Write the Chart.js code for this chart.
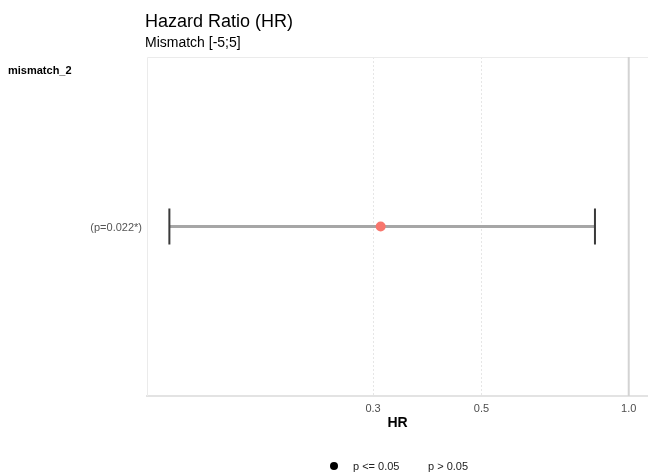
<!DOCTYPE html>
<html>
<head>
<meta charset="utf-8">
<script src="https://cdn.jsdelivr.net/npm/chart.js@4/dist/chart.umd.min.js"></script>
<style>
  html, body { margin: 0; padding: 0; background: #fff; }
  #wrap { width: 648px; height: 474px; }
</style>
</head>
<body>
<div id="wrap"><canvas id="forest"></canvas></div>
<script>
// ===== Data =====
const rowLabels = ["mismatch_2"];
const pLabels = ["(p=0.022*)"];
const hrValues = [0.311];
const lowerCI = [0.115];
const upperCI = [0.853];
const xTicks = [0.3, 0.5, 1.0];
const legendLabels = ["p <= 0.05", "p > 0.05"];

const FONT = "'Liberation Sans', Arial, sans-serif";

// ===== Error bars, frame, labels =====
const forestPlugin = {
    id: "forest",
    beforeDatasetsDraw(chart) {
        const { ctx, chartArea: a, scales: { x, y } } = chart;
        ctx.save();
        // panel frame
        ctx.strokeStyle = "#ebebeb";
        ctx.lineWidth = 1;
        ctx.beginPath();
        ctx.moveTo(a.left + 0.5, a.bottom);
        ctx.lineTo(a.left + 0.5, a.top + 0.5);
        ctx.lineTo(a.right, a.top + 0.5);
        ctx.stroke();
        // reference line at HR = 1
        const xr = x.getPixelForValue(1);
        ctx.strokeStyle = "#d3d3d3";
        ctx.lineWidth = 2;
        ctx.beginPath();
        ctx.moveTo(xr, a.top);
        ctx.lineTo(xr, a.bottom);
        ctx.stroke();
        // CI bars
        hrValues.forEach((v, i) => {
            const yp = y.getPixelForValue(i + 1);
            const x1 = x.getPixelForValue(lowerCI[i]);
            const x2 = x.getPixelForValue(upperCI[i]);
            ctx.strokeStyle = "#a6a6a6";
            ctx.lineWidth = 3;
            ctx.beginPath();
            ctx.moveTo(x1, yp);
            ctx.lineTo(x2, yp);
            ctx.stroke();
            ctx.strokeStyle = "#3a3a3a";
            ctx.lineWidth = 2;
            ctx.beginPath();
            ctx.moveTo(x1, yp - 18);
            ctx.lineTo(x1, yp + 18);
            ctx.moveTo(x2, yp - 18);
            ctx.lineTo(x2, yp + 18);
            ctx.stroke();
        });
        ctx.restore();
    },
    afterDraw(chart) {
        const { ctx, chartArea: a, scales: { y } } = chart;
        ctx.save();
        ctx.textBaseline = "alphabetic";
        ctx.textAlign = "left";
        ctx.fillStyle = "#000";
        ctx.font = "18px " + FONT;
        ctx.fillText("Hazard Ratio (HR)", 145, 27);
        ctx.font = "14px " + FONT;
        ctx.fillText("Mismatch [-5;5]", 145, 47);
        ctx.font = "bold 11px " + FONT;
        ctx.fillText(rowLabels[0], 8, 74);
        // p labels
        ctx.textAlign = "right";
        ctx.textBaseline = "middle";
        ctx.fillStyle = "#555";
        ctx.font = "11px " + FONT;
        pLabels.forEach((p, i) => {
            ctx.fillText(p, a.left - 5, y.getPixelForValue(i + 1) + 1);
        });
        // legend
        ctx.textAlign = "left";
        ctx.fillStyle = "#000";
        ctx.beginPath();
        ctx.arc(334, 466, 4, 0, Math.PI * 2);
        ctx.fill();
        ctx.fillStyle = "#222";
        ctx.fillText(legendLabels[0], 353, 467);
        ctx.fillText(legendLabels[1], 428, 467);
        ctx.restore();
    }
};

// ===== Chart =====
const ctx = document.getElementById("forest").getContext("2d");
new Chart(ctx, {
    type: "scatter",
    data: {
        datasets: [{
            label: "HR",
            data: hrValues.map((v, i) => ({ x: v, y: i + 1 })),
            backgroundColor: "#F8766D",
            borderWidth: 0,
            pointRadius: 5,
            pointHoverRadius: 5
        }]
    },
    options: {
        responsive: true,
        maintainAspectRatio: false,
        animation: false,
        layout: { autoPadding: false, padding: { left: 147, right: 0, top: 57, bottom: 38 } },
        plugins: {
            legend: { display: false },
            tooltip: { enabled: false },
            title: { display: false }
        },
        scales: {
            x: {
                type: "logarithmic",
                min: 0.1035,
                max: 1.095,
                afterBuildTicks: (scale) => {
                    scale.ticks = xTicks.map(v => ({ value: v }));
                },
                afterFit: (scale) => {
                    scale.height = 40;
                    scale.paddingLeft = 0;
                    scale.paddingRight = 0;
                },
                ticks: {
                    padding: 6,
                    color: "#4d4d4d",
                    font: { family: FONT, size: 11 },
                    maxRotation: 0,
                    callback: (v) => v.toFixed(1)
                },
                grid: {
                    drawTicks: false,
                    color: (c) => (c.tick && c.tick.value === 1 ? "rgba(0,0,0,0)" : "#e6e6e6"),
                    lineWidth: 1
                },
                border: { display: true, color: "#e3e3e3", width: 2, dash: [2, 2] },
                title: {
                    display: true,
                    text: "HR",
                    color: "#000",
                    font: { family: FONT, size: 14, weight: "bold" }
                }
            },
            y: {
                display: false,
                min: 0,
                max: 2
            }
        }
    },
    plugins: [forestPlugin]
});
</script>
</body>
</html>
